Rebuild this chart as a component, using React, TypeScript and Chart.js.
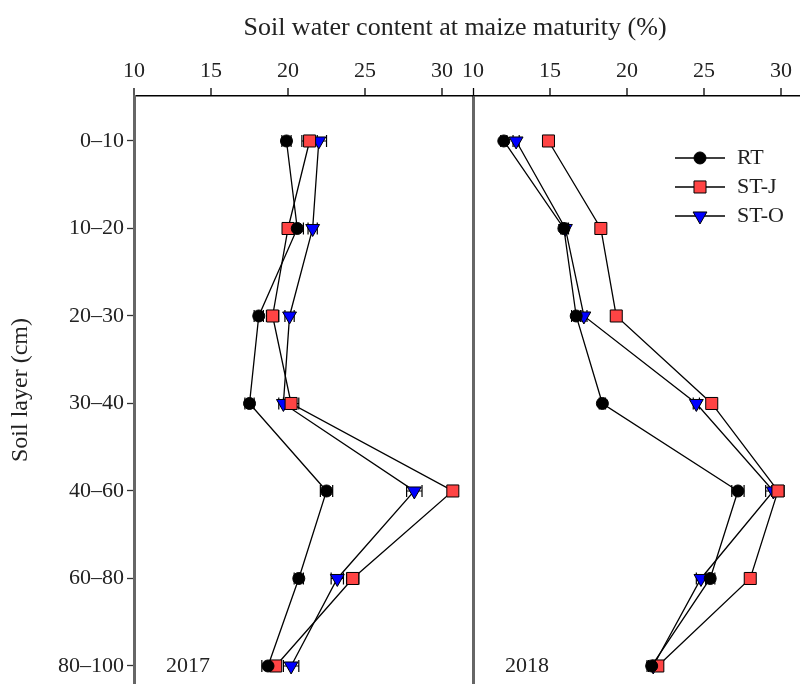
import React, { useEffect, useRef } from "react";
import { Chart, registerables } from "chart.js";

Chart.register(...registerables);

const layers = ["0–10", "10–20", "20–30", "30–40", "40–60", "60–80", "80–100"];
const seriesNames = ["RT", "ST-J", "ST-O"];
const xTicks = [10, 15, 20, 25, 30];

const rt2017 = [19.9, 20.6, 18.1, 17.5, 22.5, 20.7, 18.7];
const stj2017 = [21.4, 20.0, 19.0, 20.2, 30.7, 24.2, 19.2];
const sto2017 = [22.0, 21.6, 20.1, 19.7, 28.2, 23.2, 20.2];
const rt2018 = [12.0, 15.9, 16.7, 18.4, 27.2, 25.4, 21.6];
const stj2018 = [14.9, 18.3, 19.3, 25.5, 29.8, 28.0, 22.0];
const sto2018 = [12.8, 16.0, 17.2, 24.5, 29.5, 24.8, 21.7];

const rt2017Err = [0.3, 0.4, 0.3, 0.3, 0.4, 0.3, 0.4];
const stj2017Err = [0.5, 0.3, 0.4, 0.5, 0.3, 0.4, 0.3];
const sto2017Err = [0.5, 0.3, 0.3, 0.3, 0.5, 0.4, 0.5];
const rt2018Err = [0.2, 0.2, 0.3, 0.2, 0.4, 0.3, 0.3];
const stj2018Err = [0.2, 0.2, 0.2, 0.2, 0.4, 0.2, 0.3];
const sto2018Err = [0.2, 0.2, 0.2, 0.2, 0.5, 0.3, 0.3];

const FONT = "'Liberation Serif', 'DejaVu Serif', serif";

const styles = [
  { pointStyle: "circle", bg: "#000000", radius: 6, rotation: 0 },
  { pointStyle: "rect", bg: "#ff4444", radius: 8.5, rotation: 0 },
  { pointStyle: "triangle", bg: "#0000ff", radius: 8, rotation: 180 },
];

function makeDataset(label: string, values: number[], errs: number[], idx: number, axis: string) {
  const s = styles[idx];
  return {
    label,
    data: values.map((v, i) => ({ x: v, y: i })),
    errors: errs,
    xAxisID: axis,
    yAxisID: "y",
    showLine: true,
    borderColor: "#000000",
    borderWidth: 1.3,
    pointStyle: s.pointStyle,
    pointRadius: s.radius,
    pointRotation: s.rotation,
    pointBackgroundColor: s.bg,
    pointBorderColor: "#000000",
    pointBorderWidth: 1,
    fill: false,
    tension: 0,
  };
}

const errorBarPlugin = {
  id: "errorBars",
  beforeDatasetsDraw(chart: any) {
    const ctx = chart.ctx;
    ctx.save();
    ctx.strokeStyle = "#000000";
    ctx.lineWidth = 1.2;
    chart.data.datasets.forEach((ds: any) => {
      const xs = chart.scales[ds.xAxisID];
      const ys = chart.scales.y;
      ds.data.forEach((p: any, i: number) => {
        const e = ds.errors[i];
        const x1 = xs.getPixelForValue(p.x - e);
        const x2 = xs.getPixelForValue(p.x + e);
        const y = ys.getPixelForValue(p.y);
        ctx.beginPath();
        ctx.moveTo(x1, y);
        ctx.lineTo(x2, y);
        ctx.moveTo(x1, y - 6);
        ctx.lineTo(x1, y + 6);
        ctx.moveTo(x2, y - 6);
        ctx.lineTo(x2, y + 6);
        ctx.stroke();
      });
    });
    ctx.restore();
  },
};

function drawMarker(ctx: CanvasRenderingContext2D, idx: number, x: number, y: number) {
  const s = styles[idx];
  ctx.save();
  ctx.fillStyle = s.bg;
  ctx.strokeStyle = "#000";
  ctx.lineWidth = 1;
  ctx.beginPath();
  if (s.pointStyle === "circle") {
    ctx.arc(x, y, s.radius, 0, Math.PI * 2);
  } else if (s.pointStyle === "rect") {
    const h = s.radius * Math.SQRT1_2;
    ctx.rect(x - h, y - h, 2 * h, 2 * h);
  } else {
    const r = s.radius;
    ctx.moveTo(x, y + r);
    ctx.lineTo(x - r * 0.866, y - r * 0.5);
    ctx.lineTo(x + r * 0.866, y - r * 0.5);
    ctx.closePath();
  }
  ctx.fill();
  ctx.stroke();
  ctx.restore();
}

const annotationsPlugin = {
  id: "annotations",
  afterDraw(chart: any) {
    const ctx = chart.ctx;
    ctx.save();
    ctx.fillStyle = "#222";
    ctx.font = `26px ${FONT}`;
    ctx.textAlign = "center";
    ctx.textBaseline = "middle";
    ctx.fillText("Soil water content at maize maturity (%)", 455, 28);
    ctx.font = `22px ${FONT}`;
    const ys = chart.scales.y;
    const yb = ys.getPixelForValue(6);
    ctx.fillText("2017", 188, yb);
    ctx.fillText("2018", 527, yb);
    // legend
    const ly0 = ys.getPixelForValue(0) + 17;
    seriesNames.forEach((n, i) => {
      const y = ly0 + i * 29;
      ctx.strokeStyle = "#000";
      ctx.lineWidth = 1.3;
      ctx.beginPath();
      ctx.moveTo(675, y);
      ctx.lineTo(725, y);
      ctx.stroke();
      drawMarker(ctx, i, 700, y);
      ctx.fillStyle = "#222";
      ctx.textAlign = "left";
      ctx.fillText(n, 737, y);
    });
    ctx.restore();
  },
};

export default function App() {
  const ref = useRef<HTMLCanvasElement | null>(null);
  useEffect(() => {
    if (!ref.current) return;
    const xCommon = (weight: number, max: number, sep: boolean, order: number) => ({
      type: "linear",
      position: "top",
      stack: "panels",
      stackWeight: weight,
      weight: order,
      min: 10,
      max,
      afterBuildTicks: (scale: any) => {
        scale.ticks = xTicks.map((v) => ({ value: v }));
      },
      afterFit: (scale: any) => {
        scale.height = 96;
        scale.paddingLeft = 0;
        scale.paddingRight = 0;
      },
      ticks: {
        color: "#222",
        font: { family: FONT, size: 22 },
        padding: 4,
        maxRotation: 0,
        autoSkip: false,
      },
      grid: {
        drawOnChartArea: sep,
        color: (c: any) => (sep && c.tick && c.tick.value === 10 ? "#666666" : "rgba(0,0,0,0)"),
        lineWidth: (c: any) => (sep && c.tick && c.tick.value === 10 ? 3 : 0),
        tickColor: "#000",
        tickLength: 8,
        tickWidth: 1.3,
      },
      border: { color: "#000", width: 1.5 },
    });
    const chart = new Chart(ref.current, {
      type: "scatter",
      data: {
        datasets: [
          makeDataset("RT", rt2017, rt2017Err, 0, "x"),
          makeDataset("ST-J", stj2017, stj2017Err, 1, "x"),
          makeDataset("ST-O", sto2017, sto2017Err, 2, "x"),
          makeDataset("RT", rt2018, rt2018Err, 0, "x2"),
          makeDataset("ST-J", stj2018, stj2018Err, 1, "x2"),
          makeDataset("ST-O", sto2018, sto2018Err, 2, "x2"),
        ] as any,
      },
      options: {
        animation: false,
        responsive: false,
        maintainAspectRatio: false,
        layout: { padding: 0, autoPadding: false },
        plugins: { legend: { display: false }, tooltip: { enabled: false }, title: { display: false } },
        scales: {
          x: xCommon(339, 32.01, false, 1),
          x2: xCommon(327, 31.23, true, 0),
          y: {
            type: "linear",
            position: "left",
            reverse: true,
            min: -0.514,
            max: 6.206,
            afterBuildTicks: (scale: any) => {
              scale.ticks = layers.map((_, i) => ({ value: i }));
            },
            afterFit: (scale: any) => {
              scale.width = 134;
              scale.paddingTop = 0;
              scale.paddingBottom = 0;
            },
            ticks: {
              color: "#222",
              font: { family: FONT, size: 22 },
              padding: 3,
              autoSkip: false,
              callback: (v: any) => layers[Math.round(v)] ?? "",
            },
            title: {
              display: true,
              text: "Soil layer (cm)",
              color: "#222",
              font: { family: FONT, size: 24 },
              padding: { top: 6, bottom: 4 },
            },
            grid: { drawOnChartArea: false, tickColor: "#333", tickLength: 7, tickWidth: 1.3 },
            border: { color: "#666666", width: 3 },
          },
        } as any,
      },
      plugins: [errorBarPlugin, annotationsPlugin],
    });
    return () => chart.destroy();
  }, []);
  return (
    <div style={{ position: "fixed", left: 0, top: 0, width: 800, height: 684, background: "#fff" }}>
      <canvas ref={ref} width={800} height={684} style={{ width: 800, height: 684 }} />
    </div>
  );
}
